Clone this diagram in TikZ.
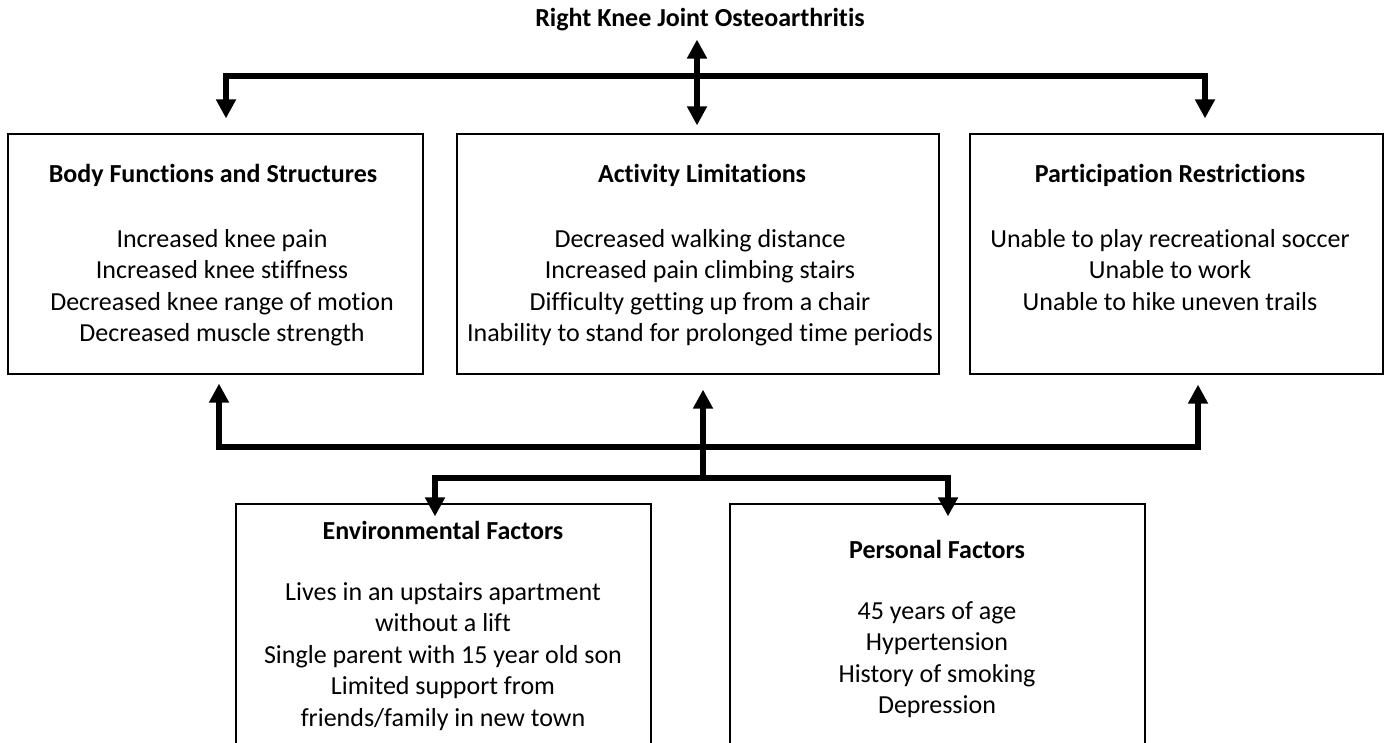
\documentclass[tikz,border=0pt]{standalone}
\usepackage{fontspec}
\setmainfont{Carlito}[Ligatures=NoCommon]
\usetikzlibrary{arrows.meta}

\begin{document}
\begin{tikzpicture}[x=1pt,y=-1pt,
	box/.style={draw,line width=1.2pt,inner sep=0pt},
	hd/.style={inner sep=0pt,font=\fontsize{26}{31}\selectfont\bfseries},
	txt/.style={align=center,inner sep=0pt,anchor=north,font=\fontsize{26}{31.5}\selectfont},
	link/.style={line width=6pt,line join=miter,-{Triangle[width=19pt,length=19pt]}},
	both/.style={line width=6pt,line join=miter,{Triangle[width=19pt,length=19pt]}-{Triangle[width=19pt,length=19pt]}}]

	\useasboundingbox (0,0) rectangle (1391,742);
	\clip (0,0) rectangle (1391,742);

	% title
	\node[hd] (oa) at (700,20) {Right Knee Joint Osteoarthritis};

	% top row
	\node[box,minimum width=415pt,minimum height=240pt] (body) at (215.5,254) {};
	\node[box,minimum width=482pt,minimum height=240pt] (act) at (698,254) {};
	\node[box,minimum width=413pt,minimum height=240pt] (part) at (1176.5,254) {};

	\node[hd] at (213,175) {Body Functions and Structures};
	\node[txt] at (222,229) {Increased knee pain\\Increased knee stiffness\\Decreased knee range of motion\\Decreased muscle strength};
	\node[hd] at (702,175) {Activity Limitations};
	\node[txt] at (700,229) {Decreased walking distance\\Increased pain climbing stairs\\Difficulty getting up from a chair\\Inability to stand for prolonged time periods};
	\node[hd] at (1170,175) {Participation Restrictions};
	\node[txt] at (1170,229) {Unable to play recreational soccer\\Unable to work\\Unable to hike uneven trails};

	% bottom row
	\node[box,minimum width=415pt,minimum height=300pt] (env) at (443.5,654) {};
	\node[box,minimum width=415pt,minimum height=300pt] (pers) at (937.5,654) {};

	\node[hd] at (443,530) {Environmental Factors};
	\node[txt] at (443,582) {Lives in an upstairs apartment\\without a lift\\Single parent with 15 year old son\\Limited support from\\friends/family in new town};
	\node[hd] at (937,549) {Personal Factors};
	\node[txt] at (937,601) {45 years of age\\Hypertension\\History of smoking\\Depression};

	% connectors
	\coordinate (tl) at (226,76);
	\coordinate (tr) at (1205,76);
	\coordinate (tm) at (697,76);
	\coordinate (bl) at (219,447);
	\coordinate (br) at (1198,447);
	\coordinate (bm) at (703,478);
	\coordinate (el) at (435,478);
	\coordinate (er) at (948,478);

	\draw[both,shorten <=15pt,shorten >=15pt] (body.north -| tl) -- (tl) -- (tr) -- (part.north -| tr);
	\draw[both,shorten <=8pt,shorten >=8pt] (oa.south -| tm) -- (act.north -| tm);
	\draw[both,shorten <=9pt,shorten >=10pt] (body.south -| bl) -- (bl) -- (br) -- (part.south -| br);
	\draw[link,shorten >=15pt] (bm) -- (act.south -| bm);
	\draw[both,shorten <=-13pt,shorten >=-13pt] (env.north -| el) -- (el) -- (er) -- (pers.north -| er);

\end{tikzpicture}
\end{document}
